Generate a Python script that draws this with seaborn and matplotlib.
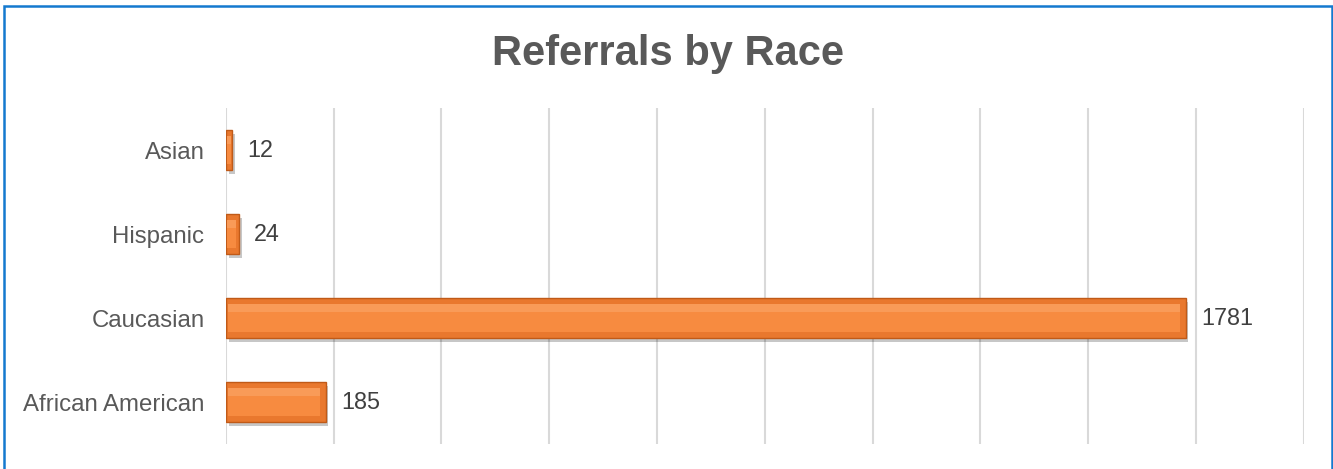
import matplotlib
matplotlib.use("Agg")
import matplotlib.pyplot as plt
import matplotlib.patheffects as pe
from matplotlib.patches import Rectangle
import seaborn as sns
import pandas as pd

categories = ["Asian", "Hispanic", "Caucasian", "African American"]
values = [12, 24, 1781, 185]
title = "Referrals by Race"
x_max = 2000
x_step = 200

sns.set_theme(style="white")
plt.rcParams["font.family"] = ["Liberation Sans", "DejaVu Sans"]

df = pd.DataFrame({"race": categories, "count": values})

fig = plt.figure(figsize=(13.33, 4.69), dpi=100)
ax = fig.add_axes([0.1695, 0.0533, 0.978 - 0.1695, 0.7697 - 0.0533])

sns.barplot(data=df, y="race", x="count", order=categories, color="#E9782E",
            saturation=1, width=0.48, edgecolor="#C05A18", linewidth=1.0, ax=ax)

bars = list(ax.patches)
for p in bars:
    p.set_path_effects([pe.SimplePatchShadow(offset=(2, -3), shadow_rgbFace="#000000", alpha=0.22),
                        pe.Normal()])
    # inner bevel face
    dx = min(11, p.get_width() * 0.25)
    dy = 0.075
    inner = Rectangle((p.get_x() + dx * 0.4, p.get_y() + dy), p.get_width() - dx * 1.4,
                      p.get_height() - 2 * dy, facecolor="#F78B40", edgecolor="none", zorder=p.get_zorder() + 0.1)
    ax.add_patch(inner)
    hl = Rectangle((p.get_x() + dx * 0.4, p.get_y() + dy), p.get_width() - dx * 1.4,
                   (p.get_height() - 2 * dy) * 0.3, facecolor="#F99B58", edgecolor="none", zorder=p.get_zorder() + 0.2)
    ax.add_patch(hl)

ax.set_xlim(0, x_max)
ax.set_xticks(range(0, x_max + 1, x_step))
ax.set_xticklabels([])
ax.tick_params(axis="x", length=0)
ax.tick_params(axis="y", length=0, pad=15.5, labelsize=17.3, labelcolor="#595959")
ax.grid(axis="x", color="#D9D9D9", linewidth=1.5)
ax.set_axisbelow(True)
ax.set_xlabel("")
ax.set_ylabel("")
for s in ax.spines.values():
    s.set_visible(False)

ax.bar_label(ax.containers[0], labels=[str(v) for v in values], padding=11,
             fontsize=16.8, color="#404040")

fig.text(0.501, 0.885, title, ha="center", va="center", fontsize=30,
         fontweight="bold", color="#595959")

fig.patches.append(Rectangle((0.003, -0.05), 0.9962, 1.038, transform=fig.transFigure,
                             fill=False, edgecolor="#1479CF", linewidth=1.8))

fig.savefig("out.png", dpi=100)
